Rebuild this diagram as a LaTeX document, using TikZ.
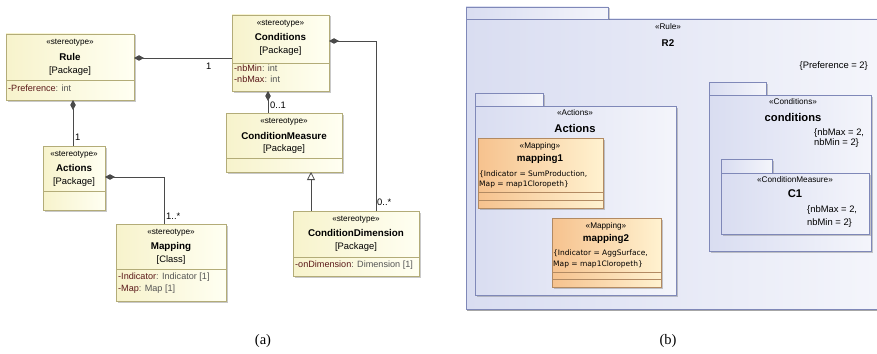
\documentclass[tikz,border=0pt]{standalone}
\usepackage{fontspec}
\setmainfont{Liberation Sans}
\newfontfamily\capfont{Liberation Serif}
\newfontfamily\valfont{DejaVu Sans}
\usetikzlibrary{arrows.meta,shadows}

\definecolor{ybord}{HTML}{B3AC78}
\definecolor{yfillA}{HTML}{F7F3CC}
\definecolor{yfillB}{HTML}{FFFFF2}
\definecolor{pbord}{HTML}{7F88B8}
\definecolor{pfillA}{HTML}{D9DDF1}
\definecolor{pfillB}{HTML}{F4F5FB}
\definecolor{obord}{HTML}{B28A62}
\definecolor{ofillA}{HTML}{F6C28E}
\definecolor{ofillB}{HTML}{FFF2D0}
\definecolor{attrname}{HTML}{5A1818}
\definecolor{attrtype}{HTML}{555555}
\definecolor{wire}{HTML}{4A4A4A}

\tikzset{
  ybox/.style={draw=ybord, line width=0.7pt, left color=yfillA, right color=yfillB,
    anchor=north west, inner sep=0pt, outer sep=0pt,
    drop shadow={shadow xshift=1.5pt, shadow yshift=-1.5pt, opacity=0.35, fill=black!60}},
  pbox/.style={draw=pbord, line width=0.7pt, left color=pfillA, right color=pfillB,
    anchor=north west, inner sep=0pt, outer sep=0pt,
    drop shadow={shadow xshift=1.5pt, shadow yshift=-1.5pt, opacity=0.35, fill=black!60}},
  obox/.style={draw=obord, line width=0.7pt, left color=ofillA, right color=ofillB,
    anchor=north west, inner sep=0pt, outer sep=0pt,
    drop shadow={shadow xshift=1.5pt, shadow yshift=-1.5pt, opacity=0.35, fill=black!60}},
  ydiv/.style={draw=ybord, line width=0.7pt},
  odiv/.style={draw=obord, line width=0.7pt},
  stereo/.style={inner sep=0pt, font=\fontsize{8.2}{9}\selectfont},
  bname/.style={inner sep=0pt, font=\fontsize{9.8}{10}\selectfont\bfseries},
  bigname/.style={inner sep=0pt, font=\fontsize{11.2}{12}\selectfont\bfseries},
  plain/.style={inner sep=0pt, font=\fontsize{9.4}{10}\selectfont},
  attr/.style={inner sep=0pt, anchor=west, font=\fontsize{9.1}{10}\selectfont},
  val/.style={inner sep=0pt, anchor=west, font=\valfont\fontsize{7.5}{8}\selectfont},
  mult/.style={inner sep=0pt, anchor=west, font=\fontsize{9.4}{10}\selectfont},
  wirestyle/.style={draw=wire, line width=0.8pt},
  comp/.style={wirestyle, {Diamond[length=10pt,width=5.5pt,fill=wire]}-},
  gen/.style={wirestyle, -{Triangle[open,length=8pt,width=8pt,fill=white]}},
  caption/.style={inner sep=0pt, font=\capfont\fontsize{14.5}{16}\selectfont}
}

\begin{document}
\begin{tikzpicture}[x=1pt,y=-1pt]
\useasboundingbox[fill=white] (0,0) rectangle (877,353);

% ---------------- (a) profile of stereotypes ----------------
\node[ybox, minimum width=128pt, minimum height=66pt] (rule) at (6,34) {};
\draw[ydiv] (rule.west |- 0,80) -- (rule.east |- 0,80);
\node[stereo] (ruleS) at (70,43) {«stereotype»};
\node[bname]  (ruleN) at (70,57) {Rule};
\node[plain]  (ruleP) at (70,71) {[Package]};
\node[attr]   (ruleA) at (8,88) {\textcolor{attrname}{-Preference}\textcolor{attrtype}{ : int}};

\node[ybox, minimum width=97pt, minimum height=76pt] (cond) at (232,15) {};
\draw[ydiv] (cond.west |- 0,63) -- (cond.east |- 0,63);
\node[stereo] (condS) at (280.5,24) {«stereotype»};
\node[bname]  (condN) at (280.5,37) {Conditions};
\node[plain]  (condP) at (280.5,51) {[Package]};
\node[attr]   (condA1) at (234,68) {\textcolor{attrname}{-nbMin}\textcolor{attrtype}{ : int}};
\node[attr]   (condA2) at (234,79) {\textcolor{attrname}{-nbMax}\textcolor{attrtype}{ : int}};

\node[ybox, minimum width=116pt, minimum height=59pt] (cmeas) at (226,113) {};
\draw[ydiv] (cmeas.west |- 0,158) -- (cmeas.east |- 0,158);
\node[stereo] (cmeasS) at (284,122) {«stereotype»};
\node[bname]  (cmeasN) at (284,136) {ConditionMeasure};
\node[plain]  (cmeasP) at (284,149) {[Package]};

\node[ybox, minimum width=126pt, minimum height=65pt] (cdim) at (293,211) {};
\draw[ydiv] (cdim.west |- 0,257) -- (cdim.east |- 0,257);
\node[stereo] (cdimS) at (356,220) {«stereotype»};
\node[bname]  (cdimN) at (356,233) {ConditionDimension};
\node[plain]  (cdimP) at (356,247) {[Package]};
\node[attr]   (cdimA) at (295,265) {\textcolor{attrname}{-onDimension}\textcolor{attrtype}{ : Dimension [1]}};

\node[ybox, minimum width=62pt, minimum height=64pt] (act) at (43,146) {};
\draw[ydiv] (act.west |- 0,191) -- (act.east |- 0,191);
\node[stereo] (actS) at (74,155) {«stereotype»};
\node[bname]  (actN) at (74,168) {Actions};
\node[plain]  (actP) at (74,182) {[Package]};

\node[ybox, minimum width=110pt, minimum height=77pt] (map) at (116,224) {};
\draw[ydiv] (map.west |- 0,269) -- (map.east |- 0,269);
\node[stereo] (mapS) at (171,233) {«stereotype»};
\node[bname]  (mapN) at (171,247) {Mapping};
\node[plain]  (mapP) at (171,260) {[Class]};
\node[attr]   (mapA1) at (118,277) {\textcolor{attrname}{-Indicator}\textcolor{attrtype}{ : Indicator [1]}};
\node[attr]   (mapA2) at (118,289) {\textcolor{attrname}{-Map}\textcolor{attrtype}{ : Map [1]}};

% connector bends
\coordinate (condBend) at (376,41);
\coordinate (actBend) at (164,177);

% composition and generalization connectors
\draw[comp] (rule.east |- 0,58) -- (cond.west |- 0,58);
\draw[comp] (cond.east |- condBend) -- (condBend) -- (condBend |- cdim.north);
\draw[comp] (cond.south -| 268,0) -- (cmeas.north -| 268,0);
\draw[comp] (rule.south -| 73,0) -- (act.north -| 73,0);
\draw[comp] (act.east |- actBend) -- (actBend) -- (actBend |- map.north);
\draw[gen]  (cdim.north -| 311,0) -- (cmeas.south -| 311,0);

% multiplicities
\node[mult] (m1) at (206,66) {1};
\node[mult] (m2) at (377,202) {0..*};
\node[mult] (m3) at (270,105) {0..1};
\node[mult] (m4) at (75,137) {1};
\node[mult] (m5) at (166,216) {1..*};

\node[caption] (capA) at (263,341) {(a)};

% ---------------- (b) object model ----------------
% outer package R2 (open on the right)
\fill[left color=pfillA, right color=pfillB] (466,19) rectangle (877,309);
\draw[pbord, line width=0.7pt] (877,19) -- (466,19) -- (466,309) -- (877,309);
\draw[black!35, line width=1.2pt] (467,310.5) -- (877,310.5);
\node[pbox, minimum width=142pt, minimum height=12pt] (r2tab) at (466,7) {};
\node[stereo] (r2S) at (668,27) {«Rule»};
\node[bname]  (r2N) at (668,43) {R2};
\node[plain, anchor=east] (r2V) at (868,66) {\{Preference = 2\}};

% Actions package
\node[pbox, minimum width=68pt, minimum height=13pt] (actTab) at (475,93) {};
\node[pbox, minimum width=201pt, minimum height=189pt] (actPkg) at (475,106) {};
\node[stereo]  (actPkgS) at (575,113) {«Actions»};
\node[bigname] (actPkgN) at (575,128) {Actions};

\node[obox, minimum width=125pt, minimum height=70pt] (m1box) at (478,138) {};
\draw[odiv] (m1box.west |- 0,192) -- (m1box.east |- 0,192);
\draw[odiv] (m1box.west |- 0,200) -- (m1box.east |- 0,200);
\node[stereo] (m1S) at (540,146) {«Mapping»};
\node[bname]  (m1N) at (540,159) {mapping1};
\node[val]    (m1V1) at (479,174) {\{Indicator = SumProduction,};
\node[val]    (m1V2) at (479,184) {Map = map1Cloropeth\}};

\node[obox, minimum width=109pt, minimum height=69pt] (m2box) at (552,218) {};
\draw[odiv] (m2box.west |- 0,272) -- (m2box.east |- 0,272);
\draw[odiv] (m2box.west |- 0,279) -- (m2box.east |- 0,279);
\node[stereo] (m2S) at (606,226) {«Mapping»};
\node[bname]  (m2N) at (606,239) {mapping2};
\node[val]    (m2V1) at (553,253) {\{Indicator = AggSurface,};
\node[val]    (m2V2) at (553,264) {Map = map1Cloropeth\}};

% conditions package
\node[pbox, minimum width=57pt, minimum height=13pt] (cTab) at (709,82) {};
\node[pbox, minimum width=162pt, minimum height=156pt] (cPkg) at (709,95) {};
\node[stereo]  (cPkgS) at (793,102) {«Conditions»};
\node[bigname] (cPkgN) at (793,117) {conditions};
\node[plain, anchor=west] (cV1) at (814,133) {\{nbMax = 2,};
\node[plain, anchor=west] (cV2) at (cV1.west |- 0,143) {nbMin = 2\}};

% C1 package
\node[pbox, minimum width=51pt, minimum height=14pt] (c1Tab) at (721,159) {};
\node[pbox, minimum width=148pt, minimum height=61pt] (c1Pkg) at (721,173) {};
\node[stereo]  (c1S) at (795,180) {«ConditionMeasure»};
\node[bigname] (c1N) at (795,194) {C1};
\node[plain, anchor=west] (c1V1) at (807,210) {\{nbMax = 2,};
\node[plain, anchor=west] (c1V2) at (c1V1.west |- 0,223) {nbMin = 2\}};

\node[caption] (capB) at (668,341) {(b)};
\end{tikzpicture}
\end{document}
